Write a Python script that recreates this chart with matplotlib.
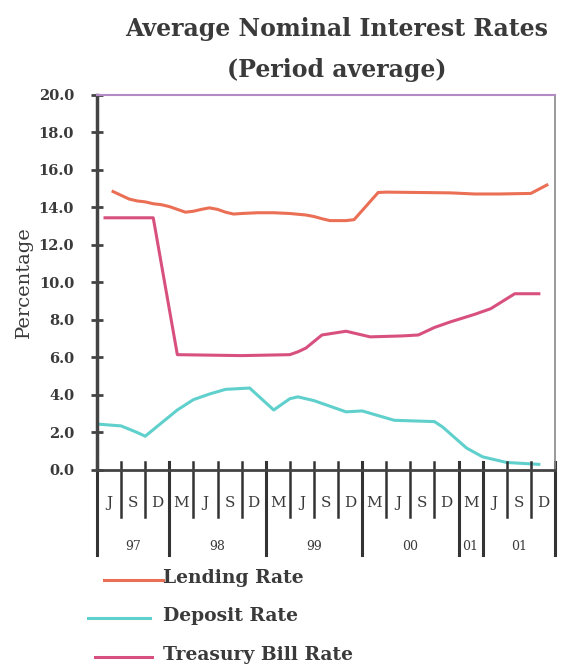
import matplotlib
matplotlib.use("Agg")
import matplotlib.pyplot as plt
from matplotlib.lines import Line2D

# month index from the start of the axis (Apr 97 = 0), one quarter = 3 months
lending_months = [2, 3, 4, 5, 6, 7, 8, 9, 10, 11, 12, 13, 14, 15, 16, 17, 18,
                  20, 22, 24, 26, 27, 28, 29, 31, 32, 35, 36, 40, 44, 47,
                  50, 54, 56]
lending_rate = [14.85, 14.65, 14.45, 14.35, 14.3, 14.2, 14.15, 14.05, 13.9,
                13.75, 13.8, 13.9, 13.98, 13.9, 13.75, 13.65, 13.68, 13.72,
                13.72, 13.68, 13.6, 13.52, 13.4, 13.3, 13.3, 13.35, 14.8,
                14.82, 14.8, 14.78, 14.72, 14.72, 14.75, 15.2]

deposit_months = [0, 3, 5, 6, 8, 10, 12, 14, 16, 19, 22, 24, 25, 27, 29, 31,
                  33, 37, 42, 43, 46, 48, 51, 55]
deposit_rate = [2.45, 2.35, 2.0, 1.8, 2.5, 3.2, 3.75, 4.05, 4.3, 4.37, 3.2,
                3.8, 3.9, 3.7, 3.4, 3.1, 3.15, 2.65, 2.58, 2.3, 1.17, 0.7,
                0.4, 0.3]

tbill_months = [1, 7, 10, 18, 24, 25, 26, 28, 31, 34, 38, 40, 42, 44, 47,
                49, 52, 55]
tbill_rate = [13.45, 13.45, 6.15, 6.1, 6.15, 6.3, 6.5, 7.2, 7.4, 7.1, 7.15,
              7.2, 7.6, 7.9, 8.3, 8.6, 9.4, 9.4]

quarter_labels = ['J', 'S', 'D', 'M', 'J', 'S', 'D', 'M', 'J', 'S', 'D',
                  'M', 'J', 'S', 'D', 'M', 'J', 'S', 'D']
year_labels = ['97', '98', '99', '00', '01', '01']
year_edges = [0, 9, 21, 33, 45, 48, 57]

lend_col = '#ea6f55'
dep_col = '#5fd0cc'
tb_col = '#d8507f'
txt_col = '#3a3a3a'

plt.rcParams['font.family'] = ['DejaVu Serif']

fig = plt.figure(figsize=(5.76, 6.69), dpi=100)
ax = fig.add_axes([0.1684, 0.2975, 0.795, 0.5605])

ax.plot(lending_months, lending_rate, color=lend_col, lw=2.2)
ax.plot(deposit_months, deposit_rate, color=dep_col, lw=2.2)
ax.plot(tbill_months, tbill_rate, color=tb_col, lw=2.2)

ax.set_xlim(0, 57)
ax.set_ylim(0, 20)
ax.set_yticks([i * 2.0 for i in range(11)])
ax.set_yticklabels(['%.1f' % (i * 2.0) for i in range(11)],
                   fontsize=10.5, fontweight='bold', color=txt_col)
ax.tick_params(axis='y', direction='inout', length=9, width=2,
               color='#444444', pad=12)
ax.set_xticks([])
ax.set_ylabel('Percentage', fontsize=14, color=txt_col, labelpad=4)

ax.spines['left'].set_linewidth(2.5)
ax.spines['left'].set_color('#444444')
ax.spines['bottom'].set_linewidth(2)
ax.spines['bottom'].set_color('#444444')
ax.spines['top'].set_color('#b38ac6')
ax.spines['top'].set_linewidth(1.5)
ax.spines['right'].set_color('#888888')
ax.spines['right'].set_linewidth(1.2)

# category axis drawn below the plot: quarter cells and year groups
tr = ax.get_xaxis_transform()
for q in range(20):
    m = q * 3
    bottom = -0.227 if m in year_edges else -0.125
    lw = 2.2 if m in year_edges else 1.8
    ax.plot([m, m], [0.02, bottom], transform=tr, color='#333333', lw=lw,
            clip_on=False)
for q, lab in enumerate(quarter_labels):
    ax.text(q * 3 + 1.5, -0.088, lab, transform=tr, ha='center', va='center',
            fontsize=11, color=txt_col)
for i, lab in enumerate(year_labels):
    mid = (year_edges[i] + year_edges[i + 1]) / 2
    ax.text(mid, -0.205, lab, transform=tr, ha='center', va='center',
            fontsize=9, color=txt_col)

fig.text(0.585, 0.956, 'Average Nominal Interest Rates', ha='center',
         va='center', fontsize=17, fontweight='bold', color=txt_col)
fig.text(0.585, 0.896, '(Period average)', ha='center', va='center',
         fontsize=17, fontweight='bold', color=txt_col)

# legend below the chart
legend_items = [('Lending Rate', lend_col, 0.180, 0.283, 0.133),
                ('Deposit Rate', dep_col, 0.153, 0.260, 0.076),
                ('Treasury Bill Rate', tb_col, 0.165, 0.264, 0.018)]
for lab, col, x0, x1, y in legend_items:
    fig.add_artist(Line2D([x0, x1], [y, y], color=col, lw=2.2,
                          transform=fig.transFigure))
    fig.text(0.283, y + 0.003, lab, ha='left', va='center', fontsize=13.5,
             fontweight='bold', color=txt_col)

fig.savefig('out.png', dpi=100)
